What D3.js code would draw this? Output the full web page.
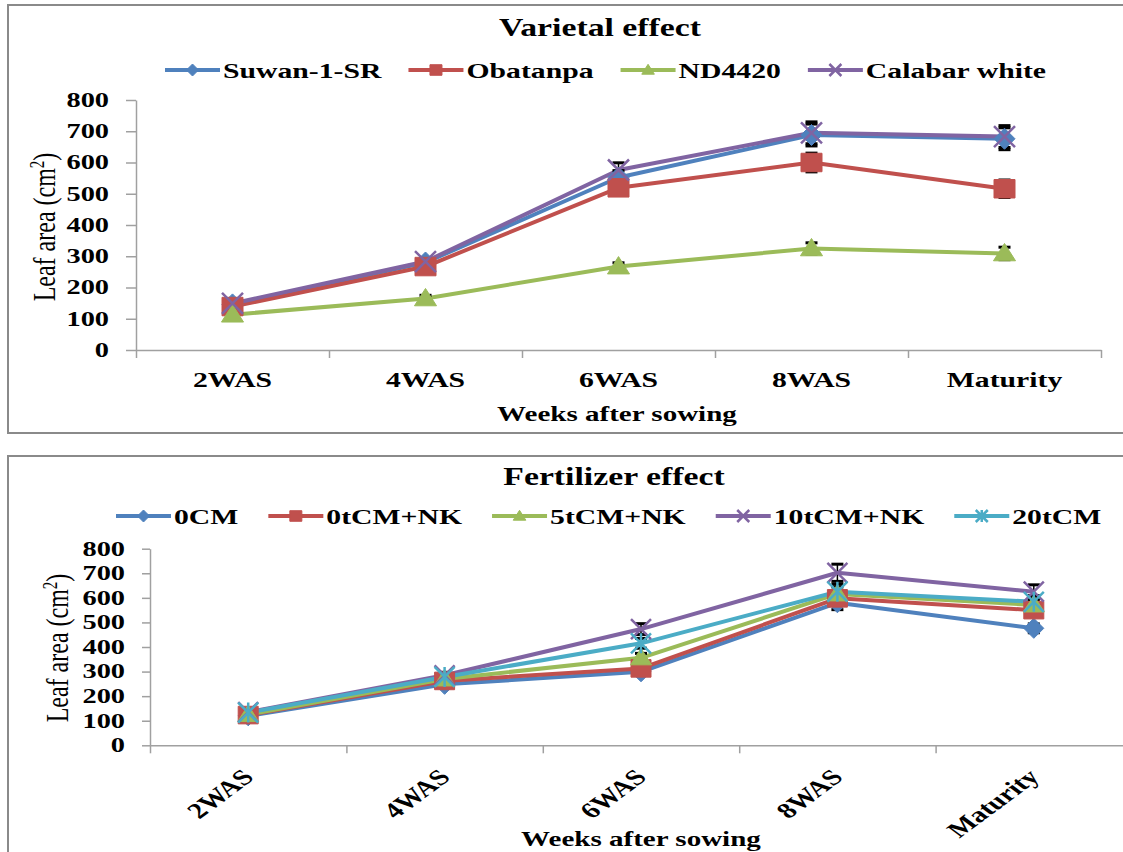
<!DOCTYPE html>
<html>
<head>
<meta charset="utf-8">
<script src="https://cdn.jsdelivr.net/npm/d3@7"></script>
<style>
  body { margin: 0; background: #fff; }
</style>
</head>
<body>
<div id="chart"></div>
<script>
// categories on the x axis and y tick values, shared by both panels
const weeks = ["2WAS", "4WAS", "6WAS", "8WAS", "Maturity"];
const yTicks = [0, 100, 200, 300, 400, 500, 600, 700, 800];

// Varietal effect - leaf area (cm2)
const varieties = ["Suwan-1-SR", "Obatanpa", "ND4420", "Calabar white"];
const suwan    = [146, 280, 552, 688, 676];
const obatanpa = [139, 267, 519, 600, 516];
const nd4420   = [113, 165, 267, 325, 309];
const calabar  = [149, 283, 576, 695, 683];
// error bars (+/-)
const suwanErr    = [8, 12, 22, 35, 35];
const obatanpaErr = [6, 12, 20, 30, 28];
const nd4420Err   = [6, 10, 12, 18, 20];
const calabarErr  = [8, 12, 23, 35, 35];

// Fertilizer effect - leaf area (cm2)
const fertilizers = ["0CM", "0tCM+NK", "5tCM+NK", "10tCM+NK", "20tCM"];
const cm0    = [120, 248, 299, 580, 476];
const cm0nk  = [123, 262, 313, 598, 550];
const cm5nk  = [125, 270, 356, 616, 571];
const cm10nk = [135, 285, 473, 702, 625];
const cm20   = [133, 278, 415, 625, 584];
const cm0Err    = [5, 10, 15, 28, 18];
const cm0nkErr  = [5, 10, 15, 25, 20];
const cm5nkErr  = [5, 10, 18, 28, 22];
const cm10nkErr = [6, 12, 22, 35, 28];
const cm20Err   = [6, 12, 20, 30, 25];

const W = 1123, H = 852;
const serif = '"Liberation Serif", "Times New Roman", serif';
const colors = ["#4F81BD", "#C0504D", "#9BBB59", "#8064A2", "#4BACC6"];
const K = 1.35; // the source picture is stretched sideways, text looks wide

const svg = d3.select("#chart")
  .append("svg")
    .attr("width", W)
    .attr("height", H)
    .attr("font-family", serif);

// stretch text horizontally (keeps the anchor)
function widen(sel, k) {
  sel.each(function() {
    const w = this.getComputedTextLength();
    d3.select(this).attr("textLength", w * k).attr("lengthAdjust", "spacingAndGlyphs");
  });
}

// excel-like markers, size = half width
const markerTypes = {
  diamond: { draw(c, s) { c.moveTo(0, -s); c.lineTo(s, 0); c.lineTo(0, s); c.lineTo(-s, 0); c.closePath(); } },
  square: { draw(c, s) { c.rect(-s, -s * 0.88, 2 * s, 1.76 * s); } },
  triangle: { draw(c, s) { c.moveTo(0, -s * 0.95); c.lineTo(s * 1.05, s * 0.7); c.lineTo(-s * 1.05, s * 0.7); c.closePath(); } },
  cross: { draw(c, s) { c.moveTo(-s, -s); c.lineTo(s, s); c.moveTo(-s, s); c.lineTo(s, -s); } },
  star: { draw(c, s) { c.moveTo(-s, -s); c.lineTo(s, s); c.moveTo(-s, s); c.lineTo(s, -s); c.moveTo(0, -s); c.lineTo(0, s); } }
};
const strokeOnly = t => t === "cross" || t === "star";

function drawMarker(g, type, color, s, cx, cy) {
  g.append("path")
    .attr("transform", `translate(${cx},${cy})`)
    .attr("d", d3.symbol().type(markerTypes[type]).size(s)())
    .attr("fill", strokeOnly(type) ? "none" : color)
    .attr("stroke", color)
    .attr("stroke-width", strokeOnly(type) ? 2.5 : 1);
}

const panels = [
  {
    title: "Varietal effect", names: varieties,
    values: [suwan, obatanpa, nd4420, calabar],
    errors: [suwanErr, obatanpaErr, nd4420Err, calabarErr],
    markers: ["diamond", "square", "triangle", "cross"],
    frame: [8, 5, 1200, 428], xr: [136, 1101], yr: [350, 100],
    title_at: [600, 36], legend_at: [165, 70], legendGap: 27,
    yTitle_at: [44, 227], xTitle_at: [617, 421],
    tickY: 10, rotate: false, mSize: 10.5
  },
  {
    title: "Fertilizer effect", names: fertilizers,
    values: [cm0, cm0nk, cm5nk, cm10nk, cm20],
    errors: [cm0Err, cm0nkErr, cm5nkErr, cm10nkErr, cm20Err],
    markers: ["diamond", "square", "triangle", "cross", "star"],
    frame: [8, 456, 1200, 430], xr: [150, 1132], yr: [745.3, 548.7],
    title_at: [614, 485], legend_at: [116, 516], legendGap: 30,
    yTitle_at: [57, 648], xTitle_at: [641, 846],
    tickY: 8, rotate: true, mSize: 10
  }
];

panels.forEach(drawPanel);

function drawPanel(p) {
  const g = svg.append("g");

  // chart frame
  g.append("rect")
    .attr("x", p.frame[0]).attr("y", p.frame[1])
    .attr("width", p.frame[2]).attr("height", p.frame[3])
    .attr("fill", "none").attr("stroke", "#8a8a8a").attr("stroke-width", 2);

  const x = d3.scaleBand().domain(weeks).range(p.xr).padding(0);
  const xEdge = d3.scaleLinear().domain([0, weeks.length]).range(p.xr);
  const y = d3.scaleLinear().domain([0, 800]).range(p.yr);
  const cx = d => x(d) + x.bandwidth() / 2;

  // y axis
  const gy = g.append("g")
    .attr("transform", `translate(${p.xr[0]},0)`)
    .call(d3.axisLeft(y).tickValues(yTicks).tickSize(p.tickY).tickSizeOuter(0).tickPadding(17));
  gy.attr("font-family", serif).attr("font-size", 20).attr("font-weight", "bold");
  gy.selectAll("text").attr("fill", "#000");
  widen(gy.selectAll("text"), K * 1.05);

  // x axis line + ticks on the category edges
  g.append("g")
    .attr("transform", `translate(0,${p.yr[0]})`)
    .call(d3.axisBottom(xEdge).tickValues(d3.range(weeks.length + 1)).tickSize(8).tickSizeOuter(0).tickFormat(""));

  // category labels
  const gx = g.append("g")
    .attr("transform", `translate(0,${p.yr[0]})`)
    .call(d3.axisBottom(x).tickSize(0).tickSizeOuter(0));
  gx.attr("font-family", serif).attr("font-size", 22).attr("font-weight", "bold");
  gx.select(".domain").remove();
  if (p.rotate) {
    gx.selectAll("text")
      .attr("x", 0).attr("y", 0).attr("dy", 0)
      .attr("text-anchor", "end")
      .attr("transform", `translate(7,33) scale(${K},1) rotate(-45)`);
  } else {
    gx.selectAll("text").attr("y", 37).attr("dy", 0);
    widen(gx.selectAll("text"), K);
  }
  gx.selectAll("text").attr("fill", "#000");

  g.selectAll(".domain, .tick line").attr("stroke", "#a0a0a0").attr("stroke-width", 1.5);

  // axis titles
  const yt = g.append("text")
    .attr("transform", `translate(${p.yTitle_at[0]},${p.yTitle_at[1]}) scale(${K},1) rotate(-90)`)
    .attr("text-anchor", "middle")
    .attr("dy", "0.35em")
    .attr("font-size", 24);
  yt.append("tspan").text("Leaf area (cm");
  yt.append("tspan").attr("font-size", 15).attr("baseline-shift", "super").text("2");
  yt.append("tspan").text(")");

  const xt = g.append("text")
    .attr("x", p.xTitle_at[0]).attr("y", p.xTitle_at[1])
    .attr("text-anchor", "middle")
    .attr("font-size", 21.5).attr("font-weight", "bold")
    .text("Weeks after sowing");
  widen(xt, K);

  // title
  const tt = g.append("text")
    .attr("x", p.title_at[0]).attr("y", p.title_at[1])
    .attr("text-anchor", "middle")
    .attr("font-size", 25).attr("font-weight", "bold")
    .text(p.title);
  widen(tt, K);

  // lines
  const line = d3.line().x((d, j) => cx(weeks[j])).y(d => y(d));
  p.values.forEach((vals, i) => {
    g.append("path")
      .attr("d", line(vals))
      .attr("fill", "none")
      .attr("stroke", colors[i])
      .attr("stroke-width", 4)
      .attr("stroke-linejoin", "round");
  });

  // error bars
  p.values.forEach((vals, i) => {
    vals.forEach((v, j) => {
      const e = p.errors[i][j], xc = cx(weeks[j]);
      const eb = g.append("g").attr("stroke", "#000");
      eb.append("line").attr("x1", xc).attr("x2", xc)
        .attr("y1", y(v - e)).attr("y2", y(v + e)).attr("stroke-width", 1.5);
      [v - e, v + e].forEach(c => {
        eb.append("line").attr("x1", xc - 6).attr("x2", xc + 6)
          .attr("y1", y(c)).attr("y2", y(c)).attr("stroke-width", 3);
      });
    });
  });

  // markers
  p.values.forEach((vals, i) => {
    vals.forEach((v, j) => drawMarker(g, p.markers[i], colors[i], p.mSize, cx(weeks[j]), y(v)));
  });

  // legend
  let lx = p.legend_at[0];
  const ly = p.legend_at[1];
  p.names.forEach((name, i) => {
    g.append("line")
      .attr("x1", lx).attr("x2", lx + 55)
      .attr("y1", ly).attr("y2", ly)
      .attr("stroke", colors[i]).attr("stroke-width", 4);
    drawMarker(g, p.markers[i], colors[i], 6, lx + 27.5, ly);
    const t = g.append("text")
      .attr("x", lx + 58).attr("y", ly).attr("dy", "0.35em")
      .attr("font-size", 22).attr("font-weight", "bold")
      .text(name);
    const w = t.node().getComputedTextLength() * K;
    widen(t, K);
    lx += 58 + w + p.legendGap;
  });
}
</script>
</body>
</html>
